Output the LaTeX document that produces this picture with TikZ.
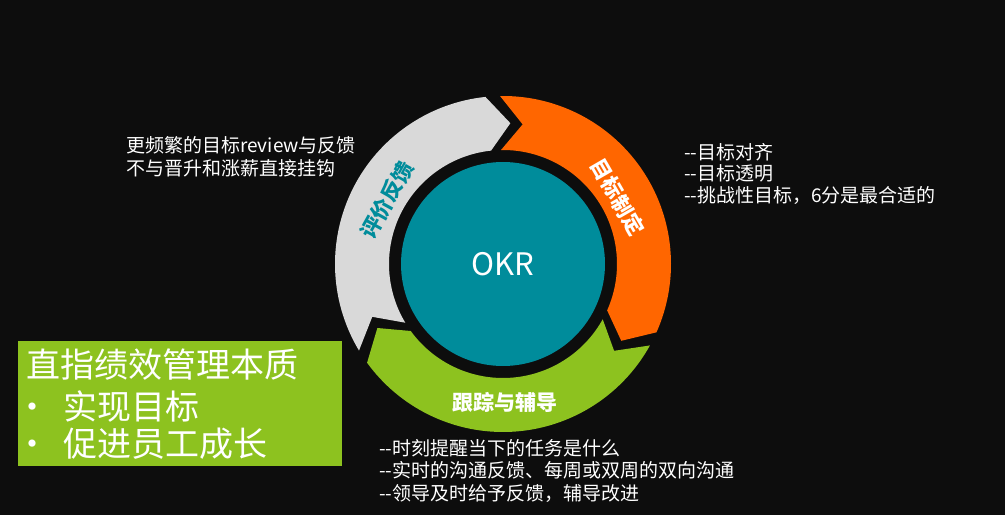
\documentclass[tikz,border=0pt]{standalone}
\usepackage{fontspec}
\newfontfamily\cjkfont{Noto Sans CJK SC}
\usepackage{xcolor}
\usepackage{tikz}
\usetikzlibrary{calc,positioning}

\definecolor{okrbg}{HTML}{0D0D0D}
\definecolor{okrorange}{HTML}{FF6600}
\definecolor{okrgreen}{HTML}{8DC21F}
\definecolor{okrgray}{HTML}{D9D9D9}
\definecolor{okrteal}{HTML}{008C9B}

\begin{document}
\begin{tikzpicture}[
    x = 1pt, y = 1pt,
    note/.style={
        text = white, % colour
        font = \cjkfont\fontsize{19}{21.5}\selectfont, % font
        align = left,
        inner sep = 0pt,
        anchor = west
      },
    stage/.style={
        text = white,
        font = \cjkfont\bfseries\fontsize{21}{21}\selectfont, % bold label
        inner sep = 0pt
      },
    boxtext/.style={
        text = white,
        font = \cjkfont\fontsize{34}{38}\selectfont,
        inner sep = 0pt,
        anchor = base west
      }]
  \fill[okrbg] (0,0) rectangle (1005,515);% background
  \coordinate (c) at (503,251);
  % three arc arrows
  \foreach \tail/\head/\col in {91/-24/okrorange, -29/-144/okrgreen, 211/96/okrgray}
    \fill[\col] ($(c)+(\tail:168pt)$) arc[start angle=\tail, end angle=\head, radius=168pt]
      -- ($(c)+({\head-9}:141pt)$) -- ($(c)+(\head:114pt)$)
      arc[start angle=\head, end angle=\tail, radius=114pt]
      -- ($(c)+({\tail-9}:141pt)$) -- cycle;
  \node [circle, fill=okrteal, minimum size=204pt, inner sep=0pt, text=white,
         font=\cjkfont\fontsize{31}{31}\selectfont] (okr) at (c) {OKR};
  \node [stage, rotate=-60] (set) at (618,318) {目标制定};
  \node [stage] (track) at (505,113) {跟踪与辅导};
  \node [stage, text=okrteal, rotate=61] (review) at (387,315) {评价反馈};
  % notes
  \node [note, font=\cjkfont\fontsize{19}{23}\selectfont] (why) at (126,358.5)
    {更频繁的目标review与反馈\\不与晋升和涨薪直接挂钩};
  \node [note] (setnote) at (684,341.5)
    {--目标对齐\\--目标透明\\--挑战性目标，6分是最合适的};
  \node [note, font=\cjkfont\fontsize{19}{22.5}\selectfont] (tracknote) at (379,44.5)
    {--时刻提醒当下的任务是什么\\--实时的沟通反馈、每周或双周的双向沟通\\--领导及时给予反馈，辅导改进};
  % green box
  \fill[okrgreen] (18,49) rectangle (342,174);
  \node [boxtext] (title) at (26,137.5) {直指绩效管理本质};
  \node [boxtext, anchor=base] (dot1) at (32.5,95.5) {•};
  \node [boxtext] (goal) at (63.5,95.5) {实现目标};
  \node [boxtext, anchor=base] (dot2) at (32.5,58.5) {•};
  \node [boxtext] (grow) at (63.5,58.5) {促进员工成长};
\end{tikzpicture}
\end{document}
